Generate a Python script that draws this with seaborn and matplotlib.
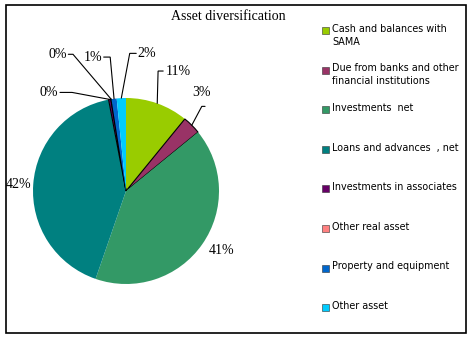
import numpy as np
import matplotlib
matplotlib.use("Agg")
import matplotlib.pyplot as plt
from matplotlib.patches import Rectangle
import seaborn as sns

# Asset mix (% of total assets)
categories = [
    "Cash and balances with\nSAMA",
    "Due from banks and other\nfinancial institutions",
    "Investments  net",
    "Loans and advances  , net",
    "Investments in associates",
    "Other real asset",
    "Property and equipment",
    "Other asset",
]
shares = [10.9, 3.2, 41.2, 41.7, 0.4, 0.1, 0.9, 1.6]
colors = ["#99CC00", "#993366", "#339966", "#008080",
          "#660066", "#FF8080", "#0066CC", "#00CCFF"]
outlined = [False, True, False, False, True, True, False, False]

sns.set_theme(style="white")
palette = sns.color_palette(colors)

W, H = 470, 340
fig = plt.figure(figsize=(W / 100, H / 100), dpi=100)
fig.patch.set_facecolor("white")

# full-figure overlay in pixel units for frame and legend
ov = fig.add_axes([0, 0, 1, 1])
ov.set_xlim(0, W)
ov.set_ylim(H, 0)
ov.axis("off")
ov.add_patch(Rectangle((6, 5), 460, 328, fill=False, ec="black", lw=1.2))
ov.text(228, 16, "Asset diversification", ha="center", va="center",
        fontsize=10, family="Liberation Serif", color="black")

# pie axes: centre (126,191) px, radius 93 px
cx, cy, r = 126, 191, 93
ax = fig.add_axes([(cx - r) / W, (H - cy - r) / H, 2 * r / W, 2 * r / H])
wedges, _ = ax.pie(shares, colors=palette, startangle=90, counterclock=False,
                   radius=1, wedgeprops=dict(linewidth=0))
for w, o in zip(wedges, outlined):
    if o:
        w.set_edgecolor("black")
        w.set_linewidth(0.8)
ax.set_xlim(-1, 1)
ax.set_ylim(-1, 1)
ax.axis("off")

# label placement (radius units): text anchor, alignment, leader elbow
label_pos = [(0.43, 1.29), (0.71, 1.06), (1.03, -0.645), (-1.16, 0.065),
             (-0.73, 1.06), (-0.63, 1.47), (-0.25, 1.44), (0.12, 1.48)]
label_ha = ["left", "left", "center", "center", "right", "right", "right", "left"]
leader = [[(0.345, 1.29), (0.40, 1.29)],
          [(0.815, 0.91), (0.85, 0.91)],
          None, None,
          [(-0.58, 1.06), (-0.71, 1.06)],
          [(-0.57, 1.47), (-0.62, 1.47)],
          [(-0.17, 1.44), (-0.24, 1.44)],
          [(0.04, 1.48), (0.11, 1.48)]]

for w, v, (tx, ty), ha, ld in zip(wedges, shares, label_pos, label_ha, leader):
    ang = np.deg2rad((w.theta1 + w.theta2) / 2)
    if ld is not None:
        xs = [np.cos(ang)] + [p[0] for p in ld]
        ys = [np.sin(ang)] + [p[1] for p in ld]
        ax.plot(xs, ys, color="black", lw=0.8, clip_on=False,
                solid_joinstyle="miter")
    ax.text(tx, ty, f"{v:.0f}%", ha=ha, va="center", fontsize=10,
            family="Liberation Serif", color="black", clip_on=False)

# legend
for i, (lab, c) in enumerate(zip(categories, palette)):
    y = 30.5 + i * 39.6
    ov.add_patch(Rectangle((322, y - 3.5), 7, 7, fc=c, ec="#333333", lw=0.4))
    ov.text(332, y - 6.8, lab, ha="left", va="top", fontsize=6.95,
            family="DejaVu Sans", color="black", linespacing=1.38)

fig.savefig("out.png", dpi=100, facecolor="white")
